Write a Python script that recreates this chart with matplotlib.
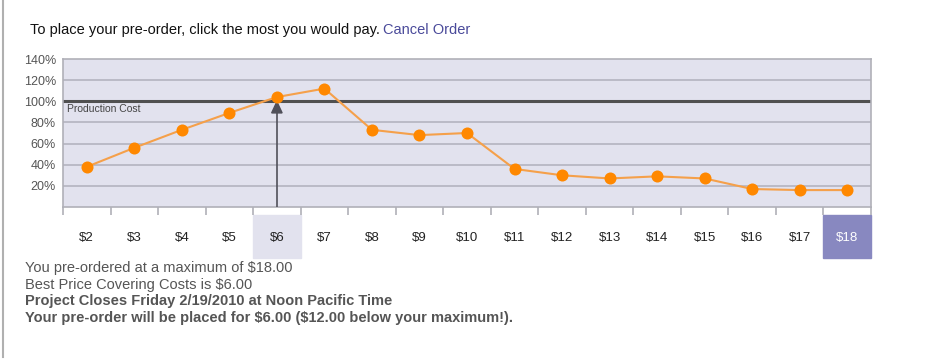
import matplotlib.pyplot as plt
from matplotlib.patches import Rectangle, Polygon

plt.rcParams["font.family"] = ["Liberation Sans", "DejaVu Sans"]

# Data
prices = ["$2", "$3", "$4", "$5", "$6", "$7", "$8", "$9", "$10",
          "$11", "$12", "$13", "$14", "$15", "$16", "$17", "$18"]
coverage = [38, 56, 73, 89, 104, 112, 73, 68, 70,
            36, 30, 27, 29, 27, 17, 16, 16]
y_ticks = [20, 40, 60, 80, 100, 120, 140]
y_labels = ["20%", "40%", "60%", "80%", "100%", "120%", "140%"]
production_cost = 100
best_idx = 4      # $6
chosen_idx = 16   # $18

W, H = 941, 364


def esc(s):
    # keep dollar signs literal (no mathtext)
    return s.replace("$", r"\$")


def draw_chart():
    fig = plt.figure(figsize=(W / 100, H / 100), dpi=100)
    ax = fig.add_axes([63 / W, 1 - 207 / H, 808 / W, 148 / H])
    ax.set_facecolor("#e2e2ee")
    ax.set_xlim(-0.5, len(prices) - 0.5)
    ax.set_ylim(0, 140)

    # grid lines
    for v in y_ticks[:-1]:
        ax.axhline(v, color="#b4b4c0", lw=1.2, zorder=1)
    ax.axhline(production_cost, color="#505050", lw=2.2, zorder=2)
    ax.text(-0.42, production_cost - 3, "Production Cost", fontsize=7.5,
            color="#444444", va="top", ha="left", zorder=3)

    # arrow from axis to best price point
    ax.plot([best_idx, best_idx], [0, production_cost - 10], color="#50505a",
            lw=1.2, zorder=3)
    ax.add_patch(Polygon([[best_idx - 0.11, production_cost - 11],
                          [best_idx + 0.11, production_cost - 11],
                          [best_idx, production_cost - 0.5]],
                         closed=True, color="#50505a", zorder=3))

    x = list(range(len(prices)))
    ax.plot(x, coverage, color="#f5a04a", lw=1.5, zorder=4)
    ax.scatter(x, coverage, s=75, color="#ff8800", zorder=5, linewidths=0)

    # spines
    for side in ["top", "right", "left", "bottom"]:
        ax.spines[side].set_color("#b0b0b8")
        ax.spines[side].set_linewidth(1.2)

    # y axis
    ax.set_yticks(y_ticks)
    ax.set_yticklabels(y_labels, fontsize=9, color="#555555")
    ax.tick_params(axis="y", length=0, pad=5)

    # x axis: boundary ticks, centered labels
    ax.set_xticks(x)
    ax.set_xticklabels([esc(p) for p in prices], fontsize=9.5, color="#222222")
    ax.set_xticks([i - 0.5 for i in range(len(prices) + 1)], minor=True)
    ax.tick_params(axis="x", which="major", length=0, pad=18)
    ax.tick_params(axis="x", which="minor", length=6, color="#b0b0b8",
                   width=1.2)
    ax.get_xticklabels()[chosen_idx].set_color("white")

    # highlight boxes under the axis
    trans = ax.get_xaxis_transform()
    ax.add_patch(Rectangle((best_idx - 0.5, -0.345), 1, 0.29,
                           transform=trans, color="#e2e2ee", clip_on=False,
                           zorder=0))
    ax.add_patch(Rectangle((chosen_idx - 0.5, -0.345), 1, 0.29,
                           transform=trans, color="#8888c0", clip_on=False,
                           zorder=0))

    # texts
    fig.text(30 / W, 1 - 30 / H,
             "To place your pre-order, click the most you would pay.",
             fontsize=10.5, color="#111111", va="center")
    fig.text(383 / W, 1 - 30 / H, "Cancel Order", fontsize=10.5,
             color="#4a4a9a", va="center")

    lines = [
        ("You pre-ordered at a maximum of $18.00", "normal"),
        ("Best Price Covering Costs is $6.00", "normal"),
        ("Project Closes Friday 2/19/2010 at Noon Pacific Time", "bold"),
        ("Your pre-order will be placed for $6.00 ($12.00 below your maximum!).", "bold"),
    ]
    for i, (txt, weight) in enumerate(lines):
        fig.text(25 / W, 1 - (268 + 16.7 * i) / H, esc(txt), fontsize=10.5,
                 color="#555555", weight=weight, va="center")

    # left page border
    fig.add_artist(plt.Line2D([2.5 / W, 2.5 / W], [0.02, 1], color="#b0b0b0",
                              lw=1.5, transform=fig.transFigure))

    fig.savefig("out.png", dpi=100)


if __name__ == "__main__":
    draw_chart()
